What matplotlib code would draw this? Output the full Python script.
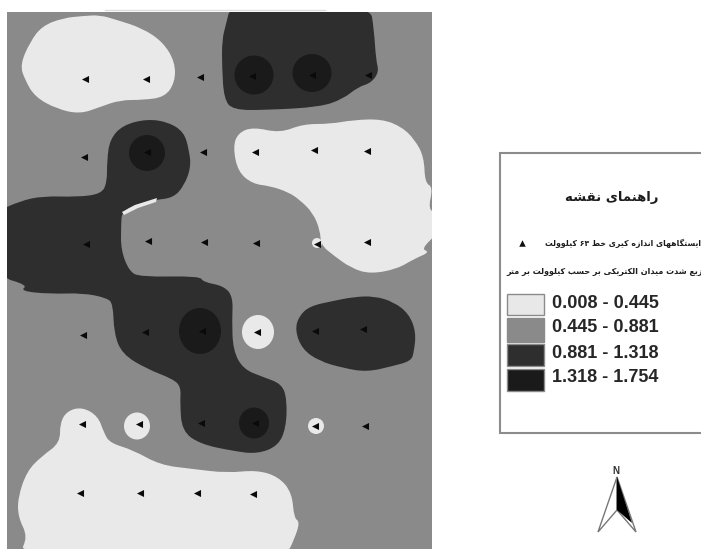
import re
import matplotlib
matplotlib.use('Agg')
import matplotlib.pyplot as plt
from matplotlib.patches import Polygon, Ellipse, Rectangle, PathPatch
from matplotlib.path import Path

# everything below is in picture pixels
map_box = [7, 12, 432, 549]

white_top = [(100,15),(117,20),(142,28),(163,42),(175,62),(175,82),(165,97),(143,100),(120,100),
             (100,107),(80,114),(57,109),(35,97),(25,80),(20,65),(30,42),(42,26),(63,18),(83,16)]
white_right = [(233,147),(238,133),(253,127),(280,133),(303,124),(330,124),(353,120),(382,119),
               (402,127),(415,140),(424,157),(425,183),(433,187),(428,210),(438,213),(438,233),
               (421,249),(430,252),(414,259),(397,269),(370,274),(351,268),(333,255),(321,245),
               (320,230),(313,213),(300,200),(288,192),(270,186),(253,184),(238,172)]
white_bottom = [(18,556),(28,537),(18,517),(18,497),(27,471),(42,456),(60,443),(60,423),(67,411),
                (82,407),(98,416),(104,433),(110,443),(133,450),(160,465),(193,469),(227,473),
                (257,470),(279,477),(292,493),(294,518),(300,522),(294,540),(286,556)]
white_sliver = [(122,212),(135,205),(157,198),(156,202),(138,208),(124,215)]

dark_top = [(231,4),(370,4),(374,30),(376,60),(379,72),(371,83),(358,87),(343,99),(320,107),
            (267,110),(233,110),(224,99),(222,67),(222,40),(226,24)]
dark_snake = [(147,119),(168,122),(184,132),(189,150),(191,167),(184,186),(173,198),(153,200),
              (122,209),(121,227),(121,250),(129,271),(140,277),(200,276),(203,282),(224,286),
              (233,297),(232,320),(233,350),(243,369),(263,377),(282,384),(287,400),(286,428),
              (278,446),(257,454),(233,451),(200,444),(182,431),(180,403),(181,387),(173,379),
              (147,369),(122,354),(114,333),(113,304),(107,298),(83,293),(50,294),(20,291),
              (28,285),(-4,276),(-4,212),(20,201),(43,196),(77,197),(101,194),(107,183),(107,160),
              (110,139),(123,125)]
dark_oval = [(295,330),(299,316),(310,306),(333,301),(353,297),(374,296),(394,302),(409,314),
             (416,332),(414,352),(411,361),(393,366),(367,372),(343,368),(319,361),(302,349)]

# centre x, centre y, width, height
black_spots = [(254,75,39,39),(312,73,39,38),(147,153,36,36),(200,331,42,46),(254,423,30,31)]
white_spots = [(258,332,32,34),(316,426,16,16),(137,426,26,27),(317,243,10,10)]

station_x = [85,146,200,252,312,368, 84,147,203,255,314,367, 86,148,204,256,317,367,
             83,145,202,257,315,363, 82,139,201,255,315,365, 80,140,197,253]
station_y = [79,79,77,76,75,75, 157,152,152,152,150,151, 244,241,242,243,244,242,
             335,332,331,332,331,329, 424,424,423,423,426,426, 493,493,493,494]

legend_box = [500, 153, 720, 433]
legend_title = 'راهنمای نقشه'
legend_station = 'ایستگاههای اندازه کیری خط ۶۳ کیلوولت'
legend_field = 'توزیع شدت میدان الکتریکی بر حسب کیلوولت بر متر'
class_labels = ['0.008 - 0.445', '0.445 - 0.881', '0.881 - 1.318', '1.318 - 1.754']
class_colors = ['#e8e8e8', '#8a8a8a', '#2e2e2e', '#1a1a1a']
swatch_top = [294, 318, 344, 369]
swatch_bottom = [315, 342, 366, 391]
label_y = [303, 328, 353, 378]

arrow_left = [(617,477),(598,532),(617,510)]
arrow_right = [(617,477),(636,532),(617,510)]
arrow_black = [(617,477),(632,523),(617,510)]

# matplotlib does no arabic shaping, so pick the joined glyphs by hand
dual = {'ب':0xFE8F,'ت':0xFE95,'ح':0xFEA1,'خ':0xFEA5,'س':0xFEB1,'ش':0xFEB5,'ط':0xFEC1,'ع':0xFEC9,
        'ف':0xFED1,'ق':0xFED5,'ک':0xFB8E,'گ':0xFB92,'ل':0xFEDD,'م':0xFEE1,'ن':0xFEE5,'ه':0xFEE9,'ی':0xFBFC}
right = {'ا':0xFE8D,'د':0xFEA9,'ر':0xFEAD,'ز':0xFEAF,'و':0xFEED}

def shape(text):
    out = []
    for i, c in enumerate(text):
        if c not in dual and c not in right:
            out.append(c)
            continue
        before = i > 0 and text[i-1] in dual
        after = i < len(text)-1 and (text[i+1] in dual or text[i+1] in right)
        if c in right:
            out.append(chr(right[c] + (1 if before else 0)))
        else:
            form = {(False,False):0,(True,False):1,(False,True):2,(True,True):3}[(before,after)]
            out.append(chr(dual[c] + form))
    vis = ''.join(out)[::-1]
    return re.sub('[۰-۹]+', lambda m: m.group(0)[::-1], vis)

def blob(ax, pts, color, clip):
    # closed outline, the listed points act as curve controls so the edge stays round
    n = len(pts)
    mid = [((pts[i][0]+pts[(i+1)%n][0])/2, (pts[i][1]+pts[(i+1)%n][1])/2) for i in range(n)]
    verts = [mid[-1]]
    codes = [Path.MOVETO]
    for i in range(n):
        verts += [pts[i], mid[i]]
        codes += [Path.CURVE3, Path.CURVE3]
    patch = PathPatch(Path(verts, codes), fc=color, ec='none')
    ax.add_patch(patch)
    patch.set_clip_path(clip)

fig = plt.figure(figsize=(7.01, 5.49), dpi=100)
ax = fig.add_axes([0, 0, 1, 1])
ax.set_xlim(0, 701)
ax.set_ylim(549, 0)
ax.axis('off')

ax.plot([105, 325], [10, 10], color='#dddddd', lw=1)
ground = Rectangle((map_box[0], map_box[1]), map_box[2]-map_box[0], map_box[3]-map_box[1],
                   fc='#8a8a8a', ec='none')
ax.add_patch(ground)
for poly in [white_top, white_right, white_bottom]:
    blob(ax, poly, '#e9e9e9', ground)
for poly in [dark_top, dark_snake, dark_oval]:
    blob(ax, poly, '#2e2e2e', ground)
ax.add_patch(Polygon(white_sliver, closed=True, fc='#e9e9e9', ec='none'))
for x, y, w, h in black_spots:
    ax.add_patch(Ellipse((x, y), w, h, fc='#1a1a1a', ec='none'))
for x, y, w, h in white_spots:
    ax.add_patch(Ellipse((x, y), w, h, fc='#e9e9e9', ec='none'))
ax.scatter(station_x, station_y, marker='<', s=26, color='#0a0a0a', linewidths=0, zorder=5)

# legend panel
ax.add_patch(Rectangle((legend_box[0], legend_box[1]), legend_box[2]-legend_box[0],
                       legend_box[3]-legend_box[1], fc='white', ec='#8c8c8c', lw=1.5))
arabic = {'family': 'DejaVu Sans', 'weight': 'bold', 'color': '#1c1c1c', 'va': 'center'}
ax.text(612, 197, shape(legend_title), fontsize=9.5, ha='center', **arabic)
ax.text(545, 243, shape(legend_station), fontsize=5.6, ha='left', **arabic)
ax.text(506, 272, shape(legend_field), fontsize=5.8, ha='left', **arabic)
ax.scatter([522], [243], marker='^', s=22, color='#111111', linewidths=0)

for label, color, top, bottom, y in zip(class_labels, class_colors, swatch_top, swatch_bottom, label_y):
    ax.add_patch(Rectangle((507, top), 37, bottom-top, fc=color, ec='#8a8a8a', lw=1))
    ax.text(552, y, label, family='Liberation Sans', weight='bold', fontsize=13, color='#262626',
            ha='left', va='center')

# north arrow
ax.add_patch(Polygon(arrow_left, closed=True, fc='white', ec='#777777', lw=1))
ax.add_patch(Polygon(arrow_right, closed=True, fc='white', ec='#777777', lw=1))
ax.add_patch(Polygon(arrow_black, closed=True, fc='black', ec='none'))
ax.text(616, 471, 'N', family='Liberation Sans', weight='bold', fontsize=7, color='#333333',
        ha='center', va='center')

fig.savefig('out.png', dpi=100)
